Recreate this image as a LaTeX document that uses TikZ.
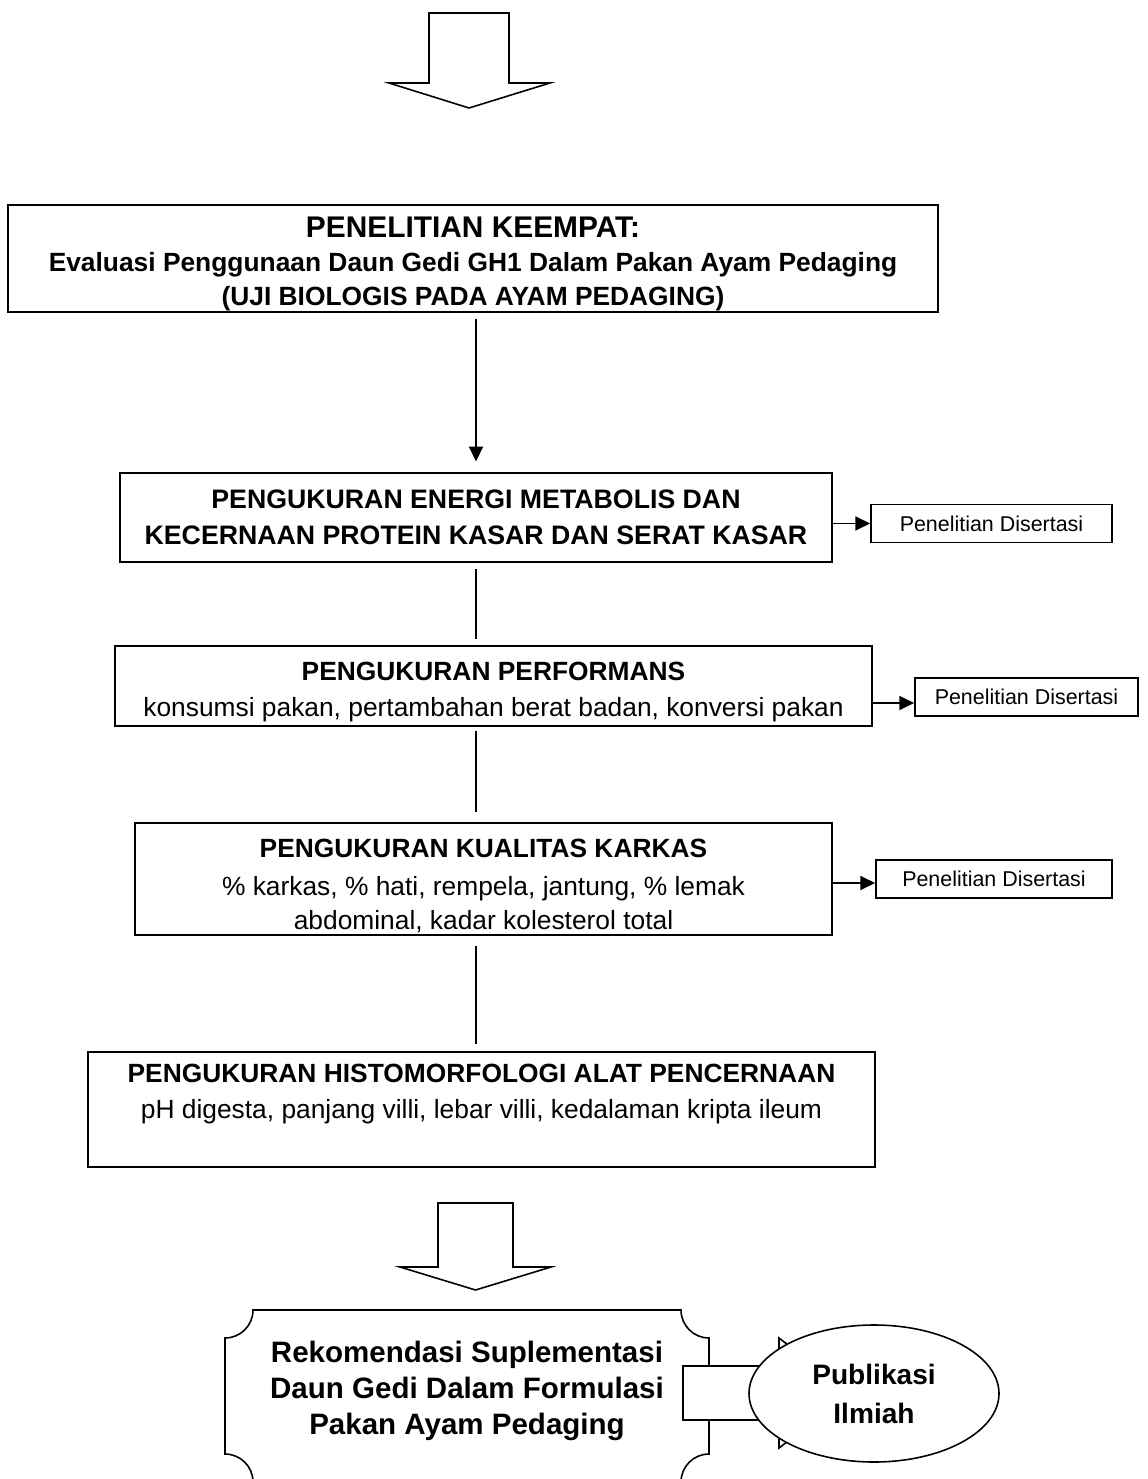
\documentclass[tikz,border=0pt]{standalone}
\usepackage{fontspec}
\setmainfont{Liberation Sans}
\usetikzlibrary{arrows.meta,shapes.geometric}

\newcommand{\geser}[1]{\rule{0pt}{#1}}

\tikzset{
  kotak/.style n args={2}{draw, line width=1.1pt, minimum width=#1*0.02cm,
    minimum height=#2*0.02cm, inner sep=0pt, align=center,
    font=\fontsize{15}{20.4}\selectfont},
  kecil/.style={draw, line width=0.9pt, minimum width=#1*0.02cm,
    minimum height=38*0.02cm, inner sep=0pt, font=\fontsize{12.2}{14}\selectfont},
  panah/.style={line width=0.9pt, -{Triangle[length=8.5pt,width=8pt]}},
  garis/.style={line width=0.8pt},
  blok/.style={draw, line width=0.9pt, fill=white, line join=miter}
}

\begin{document}
\begin{tikzpicture}[x=0.02cm, y=-0.02cm]
\useasboundingbox[fill=white] (0,0) rectangle (1147,1479);

% panah besar atas
\draw[blok] (429,13) -- (509,13) -- (509,83) -- (550,83) -- (469,108)
  -- (389,83) -- (429,83) -- cycle;

\node[kotak={930}{107}, font=\fontsize{15}{19.3}\selectfont\bfseries] (keempat) at (473,258.5)
  {\geser{17.9pt}{\fontsize{17}{19.3}\selectfont PENELITIAN KEEMPAT:}\\
   Evaluasi Penggunaan Daun Gedi GH1 Dalam Pakan Ayam Pedaging\\
   (UJI BIOLOGIS PADA AYAM PEDAGING)};

\node[kotak={712}{89}, font=\fontsize{15.2}{20.4}\selectfont\bfseries] (energi) at (476,517.5)
  {PENGUKURAN ENERGI METABOLIS DAN\\ KECERNAAN PROTEIN KASAR DAN SERAT KASAR};

\node[kotak={757}{80}] (performans) at (493.5,686)
  {\geser{17.5pt}\textbf{PENGUKURAN PERFORMANS}\\ konsumsi pakan, pertambahan berat badan, konversi pakan};

\node[kotak={697}{112}] (karkas) at (483.5,879)
  {\geser{18.7pt}\textbf{PENGUKURAN KUALITAS KARKAS}\\[1pt] \% karkas, \% hati, rempela, jantung, \% lemak\\[-1pt]
   abdominal, kadar kolesterol total};

\node[kotak={787}{115}] (histo) at (481.5,1109.5)
  {\textbf{PENGUKURAN HISTOMORFOLOGI ALAT PENCERNAAN}\\
   pH digesta, panjang villi, lebar villi, kedalaman kripta ileum\\ \mbox{}};

\node[kecil=241] (disertasi1) at (991.5,523.5) {Penelitian Disertasi};
\node[kecil=223] (disertasi2) at (1026.5,697) {Penelitian Disertasi};
\node[kecil=236] (disertasi3) at (994,879) {Penelitian Disertasi};

\draw[panah, shorten <=3.4pt, shorten >=6pt] (keempat.south -| energi.north) -- (energi.north);
\draw[garis, shorten <=3.4pt, shorten >=3.4pt] (energi.south) -- (energi.south |- performans.north);
\draw[garis, shorten <=2.3pt, shorten >=5.6pt] (energi.south |- performans.south) -- (energi.south |- karkas.north);
\draw[garis, shorten <=5.6pt, shorten >=4pt] (energi.south |- karkas.south) -- (energi.south |- histo.north);

\draw[panah] (energi.east |- disertasi1.west) -- (disertasi1.west);
\draw[panah] ([yshift=-6*0.02cm]performans.east |- disertasi2.west) -- ([yshift=-6*0.02cm]disertasi2.west);
\draw[panah] ([yshift=-4*0.02cm]karkas.east |- disertasi3.west) -- ([yshift=-4*0.02cm]disertasi3.west);

% panah besar bawah
\draw[blok] (438,1203) -- (513,1203) -- (513,1267) -- (551,1267) -- (475.5,1290)
  -- (400,1267) -- (438,1267) -- cycle;

% bingkai rekomendasi
\draw[line width=0.9pt] (253,1310) -- (681,1310) arc[start angle=180, end angle=90, radius=28]
  -- (709,1454) arc[start angle=270, end angle=180, radius=28]
  -- (253,1482) arc[start angle=0, end angle=-90, radius=28]
  -- (225,1338) arc[start angle=90, end angle=0, radius=28] -- cycle;
\node[font=\fontsize{16.8}{20.7}\selectfont\bfseries, align=center] (rekomendasi) at (467,1391)
  {Rekomendasi Suplementasi\\ Daun Gedi Dalam Formulasi\\ Pakan Ayam Pedaging};

\draw[blok] (683,1366) -- (779,1366) -- (779,1338) -- (850,1393) -- (779,1448)
  -- (779,1420) -- (683,1420) -- cycle;
\node[ellipse, draw, line width=0.9pt, fill=white, minimum width=250*0.02cm,
  minimum height=137*0.02cm, align=center, font=\fontsize{16}{22.4}\selectfont\bfseries]
  (publikasi) at (874,1393.5) {Publikasi\\[-0.2pt] Ilmiah};
\end{tikzpicture}
\end{document}
